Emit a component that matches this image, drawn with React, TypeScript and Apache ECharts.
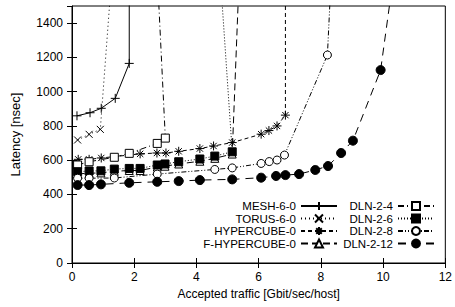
import React, { useEffect, useRef } from 'react';
import * as echarts from 'echarts';

// Accepted traffic [Gbit/sec/host] and latency [nsec] per network
const meshX = [0.16, 0.58, 0.94, 1.39, 1.84, 1.84];
const meshY = [859, 877, 903, 961, 1165, 3000];

const torusX = [0.18, 0.55, 0.91, 1.82];
const torusY = [718, 751, 780, 3000];

const hyperX = [0.2, 0.55, 0.94, 2.19, 2.73, 3.02, 3.43, 4.11, 4.55, 5.15, 6.08, 6.33, 6.59, 6.86, 6.86];
const hyperY = [605, 605, 613, 637, 642, 642, 652, 668, 683, 703, 752, 773, 800, 863, 3000];

const fhyperX = [0.18, 0.55, 0.93, 1.36, 1.84, 2.19, 2.74, 2.99, 3.43, 4.11, 4.59, 5.15, 5.66];
const fhyperY = [520, 524, 526, 535, 540, 540, 560, 565, 578, 594, 611, 636, 3000];

const dln4X = [0.18, 0.55, 1.36, 1.84, 2.74, 3.0, 2.39];
const dln4Y = [572, 591, 617, 640, 698, 729, 3000];

const dln6X = [0.18, 0.55, 0.93, 1.36, 1.84, 2.19, 2.74, 2.99, 3.43, 4.11, 4.59, 5.15, 4.27];
const dln6Y = [533, 537, 538, 548, 552, 552, 572, 578, 591, 607, 624, 649, 3000];

const dln8X = [0.18, 0.55, 1.36, 2.74, 4.59, 5.15, 6.08, 6.34, 6.59, 6.83, 8.21, 8.68];
const dln8Y = [495, 495, 496, 519, 546, 555, 581, 592, 601, 630, 1214, 3000];

const dln12X = [0.18, 0.55, 0.93, 1.84, 2.74, 3.43, 4.11, 5.15, 6.08, 6.56, 6.86, 7.3, 7.82, 8.23, 8.65, 9.03, 9.92, 10.58];
const dln12Y = [455, 455, 459, 468, 474, 478, 484, 488, 498, 508, 513, 519, 543, 566, 642, 714, 1126, 2000];

const legendLeft = ['MESH-6-0', 'TORUS-6-0', 'HYPERCUBE-0', 'F-HYPERCUBE-0'];
const legendRight = ['DLN-2-4', 'DLN-2-6', 'DLN-2-8', 'DLN-2-12'];

const xMin = 0, xMax = 12, xStep = 2;
const yMin = 0, yMax = 1500, yStep = 200;

const FONT = '"Liberation Sans", Arial, Helvetica, sans-serif';

const PLUS = 'path://M0,5L10,5M5,0L5,10';
const CROSS = 'path://M0,0L10,10M10,0L0,10';
const STAR = 'path://M0,5L10,5M5,0L5,10M1.5,1.5L8.5,8.5M8.5,1.5L1.5,8.5';

function pts(xs: number[], ys: number[]) {
  return xs.map((x, i) => [x, ys[i]]);
}

type Style = { symbol: string; size: number; fill: string; dash: any };

function mk(name: string, xs: number[], ys: number[], s: Style) {
  return {
    name,
    type: 'line',
    data: pts(xs, ys),
    clip: true,
    symbol: s.symbol,
    symbolSize: s.size,
    showAllSymbol: true,
    lineStyle: { color: '#000', width: 1, type: s.dash },
    itemStyle: { color: s.fill, borderColor: '#000', borderWidth: 1 },
    emphasis: { disabled: true },
  };
}

export default function App() {
  const ref = useRef<HTMLDivElement>(null);
  useEffect(() => {
    if (!ref.current) return;
    const chart = echarts.init(ref.current, undefined, { renderer: 'svg' });
    const tickStyle = { inside: true, length: 5, lineStyle: { color: '#000', width: 1 } };
    const legendBase = {
      orient: 'vertical',
      align: 'right',
      top: 200,
      itemWidth: 36,
      itemHeight: 10,
      itemGap: 0.5,
      selectedMode: false,
      padding: 0,
      textStyle: { fontSize: 11.5, color: '#000', fontFamily: FONT, lineHeight: 12 },
    };
    const lab = { fontSize: 12, color: '#000', fontFamily: FONT };
    chart.setOption({
      animation: false,
      backgroundColor: '#fff',
      grid: { left: 72, right: 8, top: 6, bottom: 44, show: true, borderColor: '#000', borderWidth: 1, backgroundColor: 'transparent' },
      legend: [
        { ...legendBase, right: 117, data: legendLeft },
        { ...legendBase, right: 20, data: legendRight },
      ],
      xAxis: [
        {
          type: 'value', min: xMin, max: xMax, interval: xStep,
          name: 'Accepted traffic [Gbit/sec/host]', nameLocation: 'middle', nameGap: 25,
          nameTextStyle: lab,
          axisLine: { show: true, lineStyle: { color: '#000' } },
          axisTick: tickStyle,
          axisLabel: { ...lab, margin: 8 },
          splitLine: { show: false },
        },
        {
          type: 'value', min: xMin, max: xMax, interval: xStep, position: 'top',
          axisLine: { show: false }, axisTick: tickStyle, axisLabel: { show: false }, splitLine: { show: false },
        },
      ],
      yAxis: [
        {
          type: 'value', min: yMin, max: yMax, interval: yStep,
          name: 'Latency [nsec]', nameLocation: 'middle', nameGap: 50,
          nameTextStyle: { ...lab, fontSize: 13 },
          axisLine: { show: true, lineStyle: { color: '#000' } },
          axisTick: tickStyle,
          axisLabel: { ...lab, margin: 9, showMaxLabel: false, formatter: (v: number) => String(v) },
          splitLine: { show: false },
        },
        {
          type: 'value', min: yMin, max: yMax, interval: yStep, position: 'right',
          axisLine: { show: false }, axisTick: tickStyle, axisLabel: { show: false }, splitLine: { show: false },
        },
      ],
      series: [
        mk('MESH-6-0', meshX, meshY, { symbol: PLUS, size: 9, fill: '#000', dash: 'solid' }),
        mk('TORUS-6-0', torusX, torusY, { symbol: CROSS, size: 7, fill: '#000', dash: [1, 3] }),
        mk('HYPERCUBE-0', hyperX, hyperY, { symbol: STAR, size: 9, fill: '#000', dash: [4, 3] }),
        mk('F-HYPERCUBE-0', fhyperX, fhyperY, { symbol: 'triangle', size: 8, fill: '#fff', dash: [7, 4] }),
        mk('DLN-2-4', dln4X, dln4Y, { symbol: 'rect', size: 8, fill: '#fff', dash: [6, 3, 1, 3] }),
        mk('DLN-2-6', dln6X, dln6Y, { symbol: 'rect', size: 8, fill: '#000', dash: [1, 2] }),
        mk('DLN-2-8', dln8X, dln8Y, { symbol: 'circle', size: 8, fill: '#fff', dash: [5, 2, 1, 2, 1, 2] }),
        mk('DLN-2-12', dln12X, dln12Y, { symbol: 'circle', size: 9, fill: '#000', dash: [8, 6] }),
      ],
    });
    return () => chart.dispose();
  }, []);
  return <div ref={ref} style={{ position: 'fixed', left: 0, top: 0, width: 455, height: 307 }} />;
}
